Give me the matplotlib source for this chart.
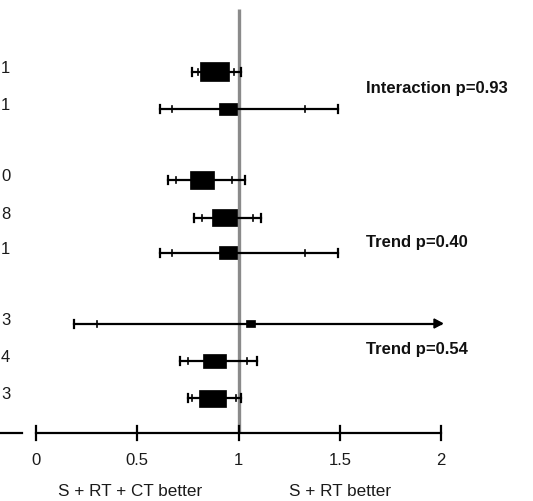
import matplotlib
matplotlib.use("Agg")
import matplotlib.pyplot as plt
from matplotlib.patches import Rectangle, Polygon

plt.rcParams['font.family'] = ['Liberation Sans', 'DejaVu Sans']

# ---- data ----
row_digits = ["1", "1", "0", "8", "1", "3", "4", "3"]          # truncated left labels
estimate   = [0.88, 0.95, 0.82, 0.93, 0.95, 1.06, 0.88, 0.87]
ci95_lo    = [0.77, 0.61, 0.65, 0.78, 0.61, 0.19, 0.71, 0.75]
ci95_hi    = [1.01, 1.49, 1.03, 1.11, 1.49, 3.50, 1.09, 1.01]
ci_in_lo   = [0.80, 0.67, 0.69, 0.82, 0.67, 0.30, 0.75, 0.77]
ci_in_hi   = [0.98, 1.33, 0.97, 1.07, 1.33, 2.80, 1.04, 0.99]
p_labels   = ["Interaction p=0.93", "Trend p=0.40", "Trend p=0.54"]
x_ticks    = [0, 0.5, 1, 1.5, 2]
x_ticklabels = ["0", "0.5", "1", "1.5", "2"]
side_left  = "S + RT + CT better"
side_right = "S + RT better"

# ---- layout / style ----
W, H, DPI = 533, 502, 100
X0, SCALE = 36, 202.5                 # pixel of x=0, pixels per unit
row_y   = [72.5, 110, 180.5, 218.5, 253.5, 324.5, 361.5, 399]
box_wpx = [29, 18, 24, 25, 18, 9, 23, 27]
box_hpx = [19, 12, 18, 17, 13, 7, 14, 17]
p_y     = [88, 243, 350]
XMAX = 2.0
AXIS_Y = 434

fig = plt.figure(figsize=(W / DPI, H / DPI), dpi=DPI)
ax = fig.add_axes([0, 0, 1, 1])
ax.set_xlim(-X0 / SCALE, (W - X0) / SCALE)
ax.set_ylim(H, 0)
ax.axis('off')

lw = 1.6
# reference vertical line at 1
ax.plot([1, 1], [10, AXIS_Y], color='#8a8a8a', lw=2.4, solid_capstyle='butt', zorder=1)

for i in range(len(estimate)):
    y = row_y[i]
    hi = min(ci95_hi[i], XMAX)
    ax.plot([ci95_lo[i], hi], [y, y], color='black', lw=lw, zorder=2)
    # outer caps
    for xv in (ci95_lo[i], ci95_hi[i]):
        if xv <= XMAX:
            ax.plot([xv, xv], [y - 4, y + 4], color='black', lw=lw, zorder=2)
    # inner ticks
    for xv in (ci_in_lo[i], ci_in_hi[i]):
        if xv <= XMAX:
            ax.plot([xv, xv], [y - 3, y + 3], color='black', lw=1.2, zorder=2)
    if ci95_hi[i] > XMAX:
        ah = 7 / SCALE
        ax.add_patch(Polygon([[XMAX - ah, y - 4.5], [XMAX - ah, y + 4.5], [XMAX + 1.5 / SCALE, y]],
                             closed=True, color='black', zorder=3))
    bw = box_wpx[i] / SCALE
    bh = box_hpx[i]
    ax.add_patch(Rectangle((estimate[i] - bw / 2, y - bh / 2), bw, bh,
                           facecolor='black', edgecolor='black', lw=0.5, zorder=3))
    ax.text(1 / SCALE - X0 / SCALE, y - 4, row_digits[i], ha='left', va='center',
            fontsize=12, color='#1a1a1a')

# p-value annotations
for lab, y in zip(p_labels, p_y):
    ax.text((366 - X0) / SCALE, y, lab, ha='left', va='center', fontsize=12,
            fontweight='bold', color='#111111')

# x axis
ax.plot([0, XMAX], [AXIS_Y, AXIS_Y], color='black', lw=lw, zorder=2)
ax.plot([-X0 / SCALE, (22 - X0) / SCALE], [AXIS_Y, AXIS_Y], color='black', lw=lw, zorder=2)
for t, tl in zip(x_ticks, x_ticklabels):
    ax.plot([t, t], [AXIS_Y - 7, AXIS_Y + 7], color='black', lw=lw, zorder=2)
    ax.text(t, 461, tl, ha='center', va='center', fontsize=12, color='#1a1a1a')

ax.text((130 - X0) / SCALE, 492, side_left, ha='center', va='center', fontsize=12.3, color='#1a1a1a')
ax.text((340 - X0) / SCALE, 492, side_right, ha='center', va='center', fontsize=12.3, color='#1a1a1a')

fig.savefig("out.png", dpi=DPI)
